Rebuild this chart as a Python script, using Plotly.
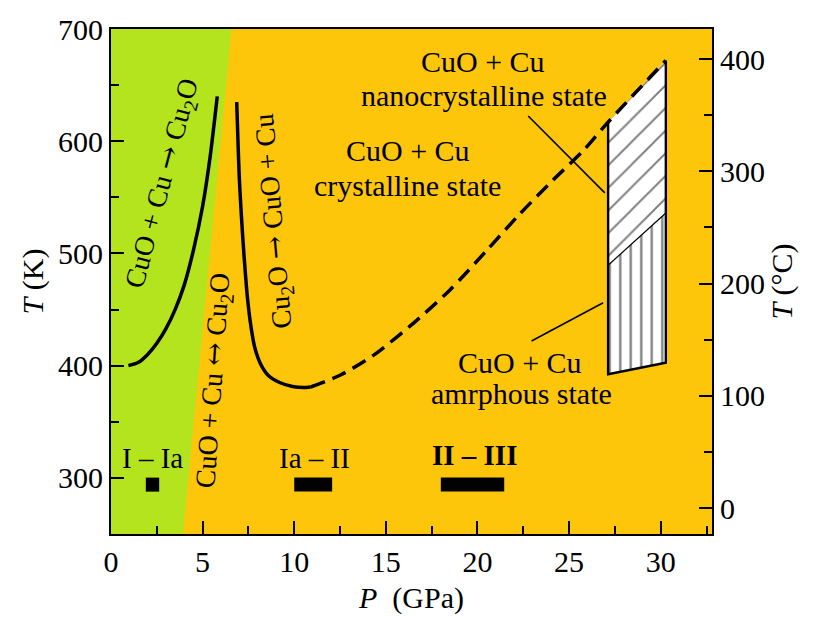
import plotly.graph_objects as go

# ---- data ----------------------------------------------------------------
# P in GPa, T in K
green_p = [0.0, 3.93, 6.58, 0.0]
green_t = [250, 250, 700, 700]

# CuO + Cu -> Cu2O boundary (low pressure branch)
left_p = [0.95, 1.5, 2.0, 2.5, 3.0, 3.5, 4.0, 4.5, 5.0, 5.4, 5.8]
left_t = [400, 403, 410, 420, 433, 450, 472, 503, 542, 585, 640]

# Cu2O -> CuO + Cu boundary (solid part)
right_p = [6.86, 6.93, 7.0, 7.1, 7.2, 7.32, 7.45, 7.62, 7.85, 8.15, 8.6, 9.2, 9.9, 10.5, 10.9]
right_t = [635, 600, 568, 538, 512, 485, 460, 437, 416, 402, 391, 385, 381.5, 380.5, 381]

# crystalline / nanocrystalline boundary (dashed)
dash_p = [10.9, 12.5, 14.3, 16.3, 18.5, 20.5, 22.3, 24.1, 25.8, 27.13, 30.28]
dash_t = [381, 391.5, 409, 435, 467.5, 502.6, 535, 565, 592, 617, 672]

# nanocrystalline (upper) and amorphous (lower) regions
nano_p = [27.13, 30.28, 30.28, 27.13]
nano_t = [617, 672, 536, 489.5]
amor_p = [27.13, 30.28, 30.28, 27.13]
amor_t = [489.5, 536, 402.6, 392.4]

# structural transition ranges
trans_labels = ["I \u2013 Ia", "Ia \u2013 II", "<b>II \u2013 III</b>"]
trans_start = [1.9, 10.0, 18.0]
trans_end = [2.63, 12.07, 21.46]
trans_t = 294

x_ticks = [0, 5, 10, 15, 20, 25, 30]
yk_ticks = [300, 400, 500, 600, 700]
yc_ticks = [0, 100, 200, 300, 400]

X_RANGE = [0, 32.8]
T_RANGE = [250, 700]
KELVIN = 273.15

GREEN = "#B4E41E"
ORANGE = "#FEC60B"
FONT = "Liberation Serif"
ARROW = "<span style='font-family:DejaVu Serif'>{}</span>"
RIGHT_ARROW = ARROW.format("\u2192")
BOTH_ARROW = ARROW.format("\u2194")

fig = go.Figure()

fig.add_trace(go.Scatter(x=green_p, y=green_t, fill="toself", mode="none",
                         fillcolor=GREEN, hoverinfo="skip"))

fig.add_trace(go.Scatter(x=nano_p, y=nano_t, fill="toself", mode="none",
                         fillcolor="white",
                         fillpattern=dict(shape="/", bgcolor="white", fgcolor="black",
                                          size=16, solidity=0.12),
                         hoverinfo="skip"))
fig.add_trace(go.Scatter(x=amor_p, y=amor_t, fill="toself", mode="none",
                         fillcolor="white",
                         fillpattern=dict(shape="|", bgcolor="white", fgcolor="black",
                                          size=10.5, solidity=0.22),
                         hoverinfo="skip"))
# outline of the hatched block (top edge is the dashed boundary)
fig.add_trace(go.Scatter(x=[nano_p[0], amor_p[3], amor_p[2], nano_p[1]],
                         y=[nano_t[0], amor_t[3], amor_t[2], nano_t[1]],
                         mode="lines", line=dict(color="black", width=2.4)))
fig.add_trace(go.Scatter(x=[amor_p[0], amor_p[1]], y=[amor_t[0], amor_t[1]],
                         mode="lines", line=dict(color="black", width=1.2)))

fig.add_trace(go.Scatter(x=left_p, y=left_t, mode="lines",
                         line=dict(color="black", width=3.5, shape="spline", smoothing=0.8)))
fig.add_trace(go.Scatter(x=right_p, y=right_t, mode="lines",
                         line=dict(color="black", width=3.5, shape="spline", smoothing=0.8)))
fig.add_trace(go.Scatter(x=dash_p, y=dash_t, mode="lines",
                         line=dict(color="black", width=3.5, dash="15px,8px",
                                   shape="spline", smoothing=0.8)))

# leader lines to the region labels
fig.add_trace(go.Scatter(x=[22.77, 26.95], y=[622.5, 554], mode="lines",
                         line=dict(color="black", width=1.6)))
fig.add_trace(go.Scatter(x=[22.95, 26.86], y=[422, 456], mode="lines",
                         line=dict(color="black", width=1.6)))

# transition pressure bars
for s, e in zip(trans_start, trans_end):
    fig.add_trace(go.Scatter(x=[s, e], y=[trans_t, trans_t], mode="lines",
                             line=dict(color="black", width=14)))

# invisible trace to carry the Celsius axis
fig.add_trace(go.Scatter(x=[None], y=[None], yaxis="y2", mode="lines", hoverinfo="skip"))

ann = []


def label(x, y, text, angle=0, size=30):
    ann.append(dict(x=x, y=y, xref="x", yref="y", text=text, showarrow=False,
                    textangle=angle, xanchor="center", yanchor="middle",
                    font=dict(family=FONT, size=size, color="black")))


label(2.81, 563, f"CuO + Cu {RIGHT_ARROW} Cu<sub>2</sub>O", -75, 28)
label(5.63, 387, f"CuO + Cu {BOTH_ARROW} Cu<sub>2</sub>O", -86, 28)
label(8.9, 529, f"Cu<sub>2</sub>O {RIGHT_ARROW} CuO + Cu", -95, 28)
label(16.2, 591.5, "CuO + Cu")
label(16.2, 560.6, "crystalline state")
label(20.3, 671, "CuO + Cu")
label(20.35, 641, "nanocrystalline state")
label(22.31, 402.6, "CuO + Cu")
label(22.42, 375.3, "amrphous state")
label(2.29, 318, trans_labels[0], 0, 29)
label(11.13, 318, trans_labels[1], 0, 29)
label(19.86, 320.6, trans_labels[2], 0, 29)

axis_common = dict(showgrid=False, zeroline=False, ticks="inside", tickwidth=2,
                   ticklen=13, tickcolor="black", showline=True, linecolor="black",
                   linewidth=2, tickfont=dict(family=FONT, size=30, color="black"))
minor_common = dict(ticks="inside", ticklen=8, tickwidth=2, tickcolor="black")

fig.update_layout(
    width=814, height=621,
    margin=dict(l=111, r=102, t=25, b=86),
    paper_bgcolor="white", plot_bgcolor=ORANGE,
    showlegend=False,
    annotations=ann,
    xaxis=dict(range=X_RANGE, tickvals=x_ticks, mirror=True,
               minor=dict(dtick=2.5, tick0=0, **minor_common),
               title=dict(text="<i>P</i>\u00a0\u00a0(GPa)", standoff=10,
                          font=dict(family=FONT, size=30, color="black")),
               **axis_common),
    yaxis=dict(range=T_RANGE, tickvals=yk_ticks,
               minor=dict(dtick=50, tick0=0, **minor_common),
               title=dict(text="<i>T</i> (K)", standoff=6,
                          font=dict(family=FONT, size=30, color="black")),
               **axis_common),
    yaxis2=dict(range=[T_RANGE[0] - KELVIN, T_RANGE[1] - KELVIN], tickvals=yc_ticks,
                overlaying="y", side="right",
                minor=dict(dtick=50, tick0=0, **minor_common),
                title=dict(text="<i>T</i> (\u00b0C)", standoff=6,
                           font=dict(family=FONT, size=30, color="black")),
                **axis_common),
)

fig.write_html("out.html")
